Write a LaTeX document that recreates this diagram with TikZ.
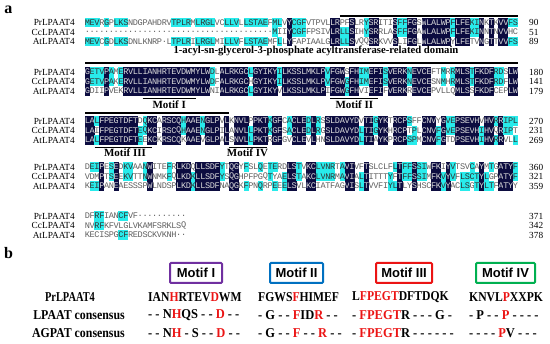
\documentclass[tikz,border=0pt]{standalone}
\usepackage{fontspec}
\usepackage{graphicx}
\setmainfont{Liberation Serif}
\setsansfont{Liberation Sans}
\setmonofont{Liberation Mono}
\usetikzlibrary{positioning}
\definecolor{alnnavy}{RGB}{12,12,64}
\definecolor{alncyan}{RGB}{40,235,235}
\definecolor{alngrey}{RGB}{95,95,95}
\definecolor{motred}{RGB}{235,20,20}
\definecolor{motpurple}{RGB}{112,48,160}
\definecolor{motblue}{RGB}{0,112,192}
\definecolor{motgreen}{RGB}{0,176,80}
\tikzset{
  cell/.style={inner sep=0pt, minimum width=4.95pt, minimum height=9.6pt,
    font=\fontsize{8.6}{9}\selectfont\ttfamily},
  celld/.style={cell, fill=alnnavy, text=white!85!black},
  cellc/.style={cell, fill=alncyan, text=black!80},
  celln/.style={cell, text=alngrey},
  seqname/.style={font=\fontsize{9.3}{10}\selectfont, anchor=east, inner sep=0pt},
  seqnum/.style={font=\fontsize{9.3}{10}\selectfont, anchor=west, inner sep=0pt},
  domline/.style={line width=1.4pt},
  motline/.style={line width=0.9pt},
  motlab/.style={font=\fontsize{11}{12}\selectfont\bfseries, inner sep=0pt},
  domlab/.style={font=\fontsize{10.7}{11}\selectfont\bfseries, inner sep=0pt},
  panel/.style={font=\fontsize{16}{16}\selectfont\bfseries, inner sep=0pt},
  motbox/.style={draw=#1, line width=2pt, fill=white, rounded corners=1pt,
    minimum height=20pt, inner sep=0pt, font=\fontsize{13}{13}\selectfont\sffamily\bfseries},
  rowlab/.style={font=\fontsize{10.4}{11}\selectfont\bfseries, inner sep=0pt},
  motseq/.style={font=\fontsize{10.4}{11}\selectfont\bfseries, anchor=west, inner sep=0pt}
}
% one residue cell per shading class
\newcommand\alncelld[3]{\node[celld] at ({85+(#1-0.5)*4.81},{#2}) {#3};}
\newcommand\alncellc[3]{\node[cellc] at ({85+(#1-0.5)*4.81},{#2}) {#3};}
\newcommand\alncelln[3]{\node[celln] at ({85+(#1-0.5)*4.81},{#2}) {#3};}
\newcommand\bstr[2]{\scalebox{#1}[1.3]{#2}}
\newcommand\rd[1]{\textcolor{motred}{#1}}
\ExplSyntaxOn
\tl_new:N \l__aln_a_tl
\tl_new:N \l__aln_b_tl
\tl_new:N \l__aln_c_tl
\tl_new:N \l__aln_sa_tl
\tl_new:N \l__aln_sb_tl
\tl_new:N \l__aln_sc_tl
\tl_const:Nn \c__aln_dot_tl { . }
\bool_new:N \l__aln_ab_bool
\bool_new:N \l__aln_ac_bool
\bool_new:N \l__aln_bc_bool
% #1 = y of first row, #2 #3 #4 = the three aligned rows
\NewDocumentCommand \alnblock { m m m m }
  {
    \int_step_inline:nn { \tl_count:n {#2} }
      {
        \tl_set:Nx \l__aln_a_tl { \tl_item:nn {#2} {##1} }
        \tl_set:Nx \l__aln_b_tl { \tl_item:nn {#3} {##1} }
        \tl_set:Nx \l__aln_c_tl { \tl_item:nn {#4} {##1} }
        \bool_set:Nn \l__aln_ab_bool
          { \tl_if_eq_p:NN \l__aln_a_tl \l__aln_b_tl && ! \tl_if_eq_p:NN \l__aln_a_tl \c__aln_dot_tl }
        \bool_set:Nn \l__aln_ac_bool
          { \tl_if_eq_p:NN \l__aln_a_tl \l__aln_c_tl && ! \tl_if_eq_p:NN \l__aln_a_tl \c__aln_dot_tl }
        \bool_set:Nn \l__aln_bc_bool
          { \tl_if_eq_p:NN \l__aln_b_tl \l__aln_c_tl && ! \tl_if_eq_p:NN \l__aln_b_tl \c__aln_dot_tl }
        \bool_if:nTF { \l__aln_ab_bool && \l__aln_ac_bool }
          {
            \tl_set:Nn \l__aln_sa_tl { d }
            \tl_set:Nn \l__aln_sb_tl { d }
            \tl_set:Nn \l__aln_sc_tl { d }
          }
          {
            \bool_if:nTF { \l__aln_ab_bool || \l__aln_ac_bool }
              { \tl_set:Nn \l__aln_sa_tl { c } } { \tl_set:Nn \l__aln_sa_tl { n } }
            \bool_if:nTF { \l__aln_ab_bool || \l__aln_bc_bool }
              { \tl_set:Nn \l__aln_sb_tl { c } } { \tl_set:Nn \l__aln_sb_tl { n } }
            \bool_if:nTF { \l__aln_ac_bool || \l__aln_bc_bool }
              { \tl_set:Nn \l__aln_sc_tl { c } } { \tl_set:Nn \l__aln_sc_tl { n } }
          }
        \use:c { alncell \l__aln_sa_tl } {##1} {#1} { \l__aln_a_tl }
        \use:c { alncell \l__aln_sb_tl } {##1} {#1+9.5} { \l__aln_b_tl }
        \use:c { alncell \l__aln_sc_tl } {##1} {#1+19} { \l__aln_c_tl }
      }
  }
\ExplSyntaxOff
\begin{document}
\begin{tikzpicture}[x=1pt,y=-1pt]
  \useasboundingbox (0,0) rectangle (550,344);
  \node[panel] (pa) at (8.5,9.5) {a};
  % alignment
  \alnblock{22.5}
    {MEVRGPLKSNDGPAHDRVTPLRMLRGLVCLLVLLSTAEFMLVYCGFVTPVLLRPFSLRYSRITISFFFGSWLALWPFLFEKINKTKVVFS}
    {.......................................MIIYCGFFPSIVLRLLSIHYSRRLASFFFGAWLALWPFLFEKINNTNVVHC}
    {MEVCGDLKSDNLKNRP.LTPLRILRGLMILLVFLSTAEMFLLYFAPIAALGLRLLSVQQSRKVVSLIFGLWLALWPYLFETVNGTTVVFS}
  \alnblock{72}
    {GETVPAMERVLLIANHRTEVDWMYLWDLALRKGCLGYIKYILKSSLMKLPVFGWSFHIMEFISVERKNEVCEFTMRRMLSTFKDFRDSLW}
    {GETVPAKERVLLIANHRTEVDWMYLWDFALRKGCHGYIKYILKSSLMKLPVFGWGFHIMEFISVERKNEVCESNMHRMLSTFKDFRDFLW}
    {GDIIPVEKRVLLIANHRTEVDWMYLWNIALRKGCLGYIKYVLKSSLMKLPIFGWGFHVIEFIFVERKREVCEPVLLQMLSSFKDFCEPLW}
  \alnblock{121}
    {LALFPEGTDFTDQKCARSCQHAAENGLPVLKNVLPPKTKGFCACLEDLRSSLDAVYDVTIGYKTRCPSFFCNVYGVEPSEVHVHVRRIPL}
    {LAIFPEGTDFTEQKCIRSCQHAAENGLPILANVLLPKTKGFSACLEDLRGSLDAVYDLTIGYKHRCPTPLCNVFGVEPSEVHIHVQRIPT}
    {LALFPEGTDFTEEKCKRSCQKAAEVGLPALSNVLLPKTRGFGVCLEVLHNSLDAVYDLTIAYKPRCPSPMCNVFGTDPSEVHIHVRRVLL}
  \alnblock{167}
    {DEIPESEDKVAANWITEFRLKDQLLSDFYTQGYFSLQETERDLSTVKCLVNRTAVIVFTSLCLFLTFFSSIWFKIYVTSVCAYMTGATYF}
    {VDMPTSEEKVTTNWNMKFQLKDKLLSDFYSQGHPFPGQTYAELSTAKCLVNRMAVIALTITTTYFTFFSSIMFKVYVFLSCTYLGPATYF}
    {KEIPANEAESSSPWLNDSPLKDKLLSDFNAQGKFPNQRPEEELSVLKCIATFAGVISLTVVFIYLTLYSHSCFKVYACLSGTYLTFATYY}
  \alnblock{216}
    {DFRFIANCFVF..........}
    {NVRFKFVLGLVKAMFSRKLSQ}
    {KECISPGCFREDSCKVKNH..}
  \foreach \yb/\na/\nb/\nc [count=\k] in {22.5/90/51/89, 72/180/141/179, 121/270/231/269,
      167/360/321/359, 216/371/342/378} {
    \node[seqname] (pr\k) at (75,\yb) {PrLPAAT4};
    \node[seqname] (cc\k) at (75,\yb+9.5) {CcLPAAT4};
    \node[seqname] (at\k) at (75,\yb+19) {AtLPAAT4};
    \node[seqnum] (npr\k) at (529,\yb) {\na};
    \node[seqnum] (ncc\k) at (529,\yb+9.5) {\nb};
    \node[seqnum] (nat\k) at (529,\yb+19) {\nc};
  }
  % domain and motifs
  \draw[domline] (339.9,16) -- (517.9,16);
  \node[domlab] (dom) at (316,51) {1-acyl-sn-glycerol-3-phosphate acyltransferase-related domain};
  \draw[domline] (85,63) -- (517.9,63);
  \draw[domline] (85,113) -- (229.3,113);
  \draw[motline] (142.7,98.5) -- (195.6,98.5);
  \node[motlab] (m1) at (169.2,104.5) {Motif I};
  \draw[motline] (330.3,98.5) -- (378.4,98.5);
  \node[motlab] (m2) at (354.3,104.5) {Motif II};
  \draw[motline] (94.6,147) -- (152.3,147);
  \node[motlab] (m3) at (125,153) {Motif III};
  \draw[motline] (228.5,147) -- (267,147);
  \node[motlab] (m4) at (247.5,153) {Motif IV};
  % panel b
  \node[panel] (pb) at (8.5,253) {b};
  \node[motbox=motpurple, minimum width=52pt] (bI) at (196,273) {Motif I};
  \node[motbox=motblue, minimum width=53pt] (bII) at (296.5,273) {Motif II};
  \node[motbox=motred, minimum width=56pt] (bIII) at (404,273) {Motif III};
  \node[motbox=motgreen, minimum width=59pt] (bIV) at (505.5,273) {Motif IV};
  \node[rowlab] (lpr) at (70,297) {\bstr{1}{PrLPAAT4}};
  \node[rowlab, anchor=east] (llp) at (125,315) {\bstr{1.14}{LPAAT consensus}};
  \node[rowlab, anchor=east] (lag) at (125,333) {\bstr{1.14}{AGPAT consensus}};
  \node[motseq] (s1a) at (148,297) {\bstr{1.12}{IAN\rd{H}RTEV\rd{D}WM}};
  \node[motseq] (s1b) at (148,315) {\bstr{1.2}{- - N\rd{H}QS - - \rd{D} - -}};
  \node[motseq] (s1c) at (148,333) {\bstr{1.2}{- - N\rd{H} - S - - \rd{D} - -}};
  \node[motseq] (s2a) at (258,297) {\bstr{1.12}{FGWS\rd{F}HIMEF}};
  \node[motseq] (s2b) at (258,315) {\bstr{1.2}{- G - - \rd{F}ID\rd{R} - -}};
  \node[motseq] (s2c) at (258,333) {\bstr{1.2}{- G - - \rd{F} - - \rd{R} - -}};
  \node[motseq] (s3a) at (352,297) {\bstr{1.12}{L\rd{FPEGT}DFTDQK}};
  \node[motseq] (s3b) at (352,315) {\bstr{1.2}{- \rd{FPEGT}R - - - G -}};
  \node[motseq] (s3c) at (352,333) {\bstr{1.2}{- \rd{FPEGT}R - - - - - -}};
  \node[motseq] (s4a) at (469,297) {\bstr{1.12}{KNVL\rd{P}XXPK}};
  \node[motseq] (s4b) at (469,315) {\bstr{1.2}{- P - - \rd{P} - - - -}};
  \node[motseq] (s4c) at (469,333) {\bstr{1.2}{- - - - \rd{P}V - - -}};
\end{tikzpicture}
\end{document}
